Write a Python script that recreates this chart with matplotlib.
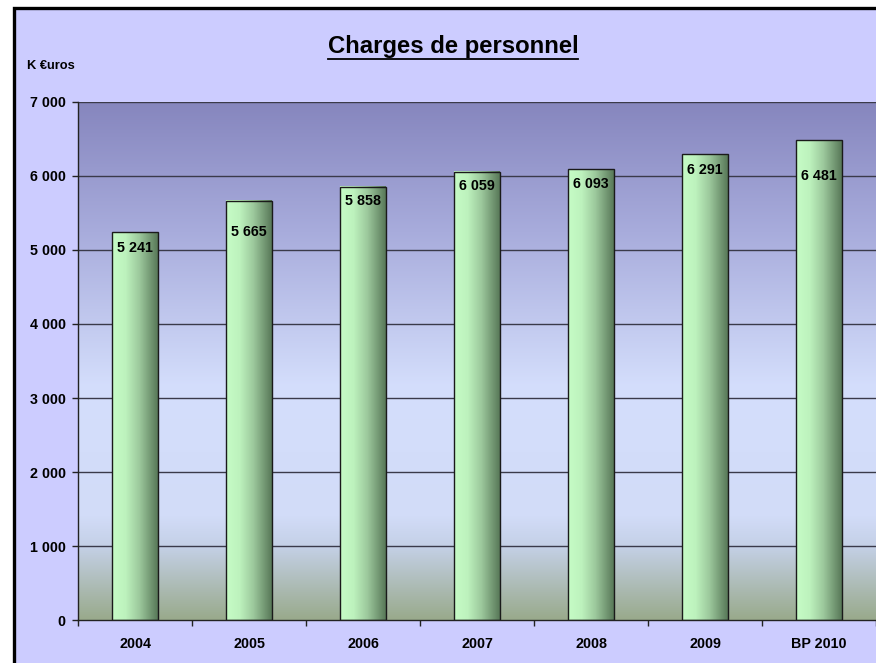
import numpy as np
import matplotlib
matplotlib.use("Agg")
import matplotlib.pyplot as plt
from matplotlib.colors import LinearSegmentedColormap
from matplotlib.patches import Rectangle

categories = ["2004", "2005", "2006", "2007", "2008", "2009", "BP 2010"]
values = [5241, 5665, 5858, 6059, 6093, 6291, 6481]
yticks = [0, 1000, 2000, 3000, 4000, 5000, 6000, 7000]
ytick_labels = ["0", "1 000", "2 000", "3 000", "4 000", "5 000", "6 000", "7 000"]
bar_labels = ["5 241", "5 665", "5 858", "6 059", "6 093", "6 291", "6 481"]

# style: how far below each bar top its label sits (pixels)
label_drop = [16, 31, 14, 14, 15, 16, 36]

plt.rcParams['font.family'] = ['Liberation Sans', 'DejaVu Sans']

W, H = 876, 663
fig = plt.figure(figsize=(W / 100, H / 100), dpi=100)
fig.patch.set_facecolor("white")

# chart frame
frame = Rectangle((13.5 / W, -0.1), 1.2, 1 - 8.5 / H + 0.1, transform=fig.transFigure,
                  facecolor="#CCCCFF", edgecolor="black", linewidth=2.4, zorder=-5)
fig.add_artist(frame)

ax = fig.add_axes([78 / W, 1 - 620 / H, 1 - 78 / W, (620 - 102) / H])
ax.set_facecolor("none")

n = len(categories)
x = np.arange(n)

# background gradient of plot area
bg_cmap = LinearSegmentedColormap.from_list(
    "bg", [(0.0, "#99AA8C"), (0.14, "#C4D0E6"), (0.2, "#D2DCF8"),
           (0.45, "#D4DEFC"), (0.75, "#A8ACDC"), (1.0, "#8686BE")])
grad = np.linspace(0, 1, 256).reshape(-1, 1)
ax.imshow(grad, extent=(-0.5, n - 0.5, 0, 7000), origin="lower", aspect="auto",
          cmap=bg_cmap, zorder=0)

for t in yticks[1:]:
    ax.axhline(t, color="#3A3A4A", linewidth=1.0, zorder=1)

bars = ax.bar(x, values, width=0.4, facecolor="none", edgecolor="#1A1A1A",
              linewidth=1.0, zorder=3)
bar_cmap = LinearSegmentedColormap.from_list(
    "bar", [(0.0, "#C6FCC6"), (0.3, "#BDF2BD"), (0.6, "#9CC89C"), (1.0, "#587858")])
hgrad = np.linspace(0, 1, 256).reshape(1, -1)
for b, lab, d in zip(bars, bar_labels, label_drop):
    x0, w, h = b.get_x(), b.get_width(), b.get_height()
    ax.imshow(hgrad, extent=(x0, x0 + w, 0, h), origin="lower", aspect="auto",
              cmap=bar_cmap, zorder=2)
    ax.annotate(lab, (x0 + w / 2, h), xytext=(0, -d), textcoords="offset pixels",
                ha="center", va="center", fontsize=10.3, fontweight="bold", zorder=4)

ax.set_xlim(-0.5, n - 0.5)
ax.set_ylim(0, 7000)

ax.set_yticks(yticks)
ax.set_yticklabels(ytick_labels, fontsize=10.3, fontweight="bold")
ax.set_xticks(np.arange(n + 1) - 0.5, minor=False)
ax.set_xticklabels([])
ax.set_xticks(x, minor=True)
ax.set_xticklabels(categories, minor=True, fontsize=10.3, fontweight="bold")
ax.tick_params(axis="x", which="minor", length=0, pad=12)
ax.tick_params(axis="x", which="major", length=4, width=1, direction="out", color="#222222")
ax.tick_params(axis="y", length=4, width=1, direction="out", color="#222222", pad=5)

for s in ["top", "right"]:
    ax.spines[s].set_visible(False)
for s in ["left", "bottom"]:
    ax.spines[s].set_color("#222222")
    ax.spines[s].set_linewidth(1.0)
    ax.spines[s].set_zorder(5)

title = fig.text(453 / W, 1 - 46 / H, "Charges de personnel", ha="center", va="center",
                 fontsize=17.2, fontweight="bold")
fig.text(27 / W, 1 - 66 / H, "K €uros", ha="left", va="center", fontsize=9.3, fontweight="bold")

# underline the title
fig.canvas.draw()
bb = title.get_window_extent()
fig.add_artist(plt.Line2D([bb.x0 / W, bb.x1 / W], [(bb.y0 - 1) / H, (bb.y0 - 1) / H],
                          transform=fig.transFigure, color="black", linewidth=1.3))

fig.savefig("out.png", dpi=100, facecolor=fig.get_facecolor())
